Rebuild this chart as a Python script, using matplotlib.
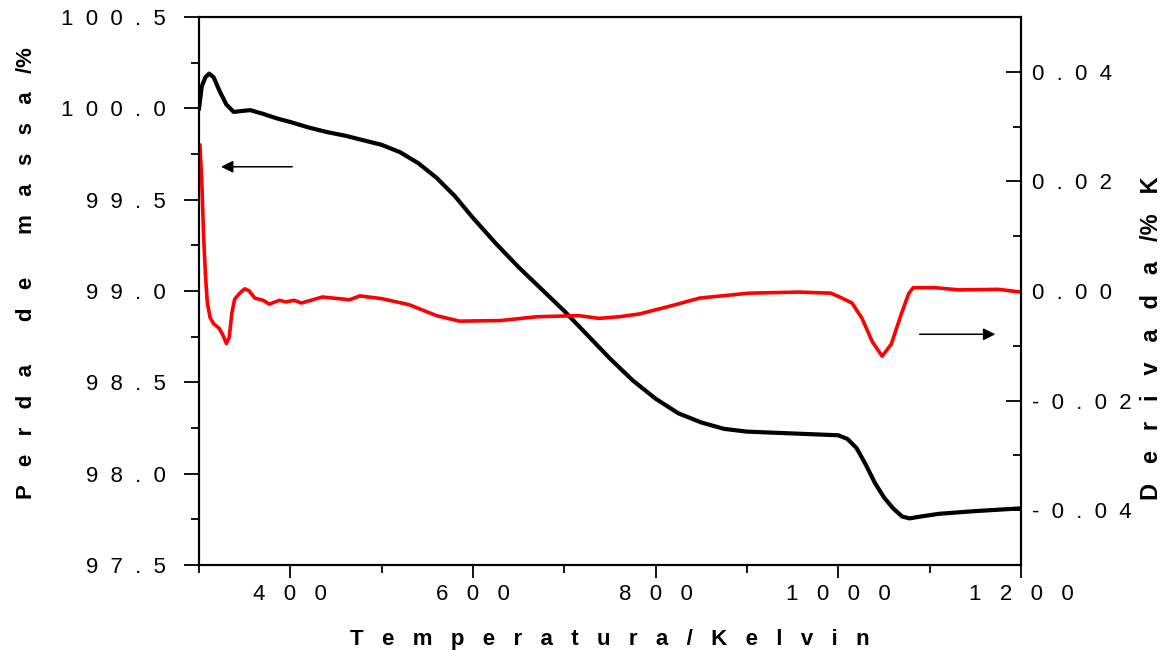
import numpy as np
import matplotlib
matplotlib.use('Agg')
import matplotlib.pyplot as plt
from matplotlib.ticker import MultipleLocator

plt.rcParams['font.family'] = ['Liberation Sans', 'DejaVu Sans']

# TG curve (mass loss, left axis)
tgTemp = [300, 303, 307, 311, 316, 322, 330, 338, 346, 356, 370, 385, 400, 420,
          440, 460, 480, 500, 520, 540, 560, 580, 600, 625, 650, 675, 700, 725,
          750, 775, 800, 825, 850, 875, 900, 950, 1000, 1010, 1020, 1030, 1040,
          1050, 1060, 1070, 1078, 1090, 1110, 1150, 1200]
tgMass = [100.00, 100.12, 100.17, 100.19, 100.17, 100.10, 100.02, 99.98, 99.985,
          99.99, 99.97, 99.945, 99.925, 99.895, 99.87, 99.85, 99.825, 99.80,
          99.76, 99.70, 99.62, 99.52, 99.40, 99.26, 99.13, 99.01, 98.89, 98.76,
          98.63, 98.51, 98.41, 98.33, 98.28, 98.245, 98.23, 98.22, 98.21, 98.19,
          98.14, 98.05, 97.95, 97.87, 97.81, 97.765, 97.755, 97.765, 97.78,
          97.795, 97.81]

# DTG curve (derivative, right axis)
dtgTemp = [301, 303, 305, 307, 309, 312, 316, 322, 326, 330, 333, 336, 339, 344,
           350, 355, 361, 370, 377, 388, 395, 404, 412, 435, 465, 476, 500, 530,
           560, 585, 630, 670, 716, 738, 760, 782, 815, 848, 902, 957, 992, 1004,
           1015, 1026, 1037, 1048, 1058, 1069, 1077, 1082, 1106, 1132, 1175, 1200]
dtgVal = [0.0266, 0.020, 0.010, 0.003, -0.002, -0.0048, -0.0060, -0.0068, -0.0080,
          -0.0096, -0.0085, -0.0040, -0.0015, -0.0005, 0.0004, 0.0, -0.0013,
          -0.0017, -0.0024, -0.0017, -0.0020, -0.0017, -0.0022, -0.0011, -0.0016,
          -0.0009, -0.0014, -0.0025, -0.0045, -0.0055, -0.0054, -0.0047, -0.0045,
          -0.0050, -0.0047, -0.0042, -0.0028, -0.0013, -0.0004, -0.0002, -0.0004,
          -0.0013, -0.0022, -0.0050, -0.0092, -0.0119, -0.0097, -0.0042, -0.0005,
          0.0006, 0.0006, 0.0002, 0.0003, -0.0002]

xTicks = [400, 600, 800, 1000, 1200]
leftTicks = [97.5, 98.0, 98.5, 99.0, 99.5, 100.0, 100.5]
rightTicks = [-0.04, -0.02, 0.00, 0.02, 0.04]


def spaced(s, n=2):
    return (' ' * n).join(s)


fig = plt.figure(figsize=(11.66, 6.53), dpi=100)
ax = fig.add_axes([0.1707, 0.1348, 0.7049, 0.8392])
ax2 = ax.twinx()

ax.plot(tgTemp, tgMass, color='black', lw=3.0)
ax2.plot(dtgTemp, dtgVal, color='red', lw=2.6)

ax.set_xlim(300, 1200)
ax.set_ylim(97.5, 100.5)
ax2.set_ylim(-0.05, 0.05)

ax.set_xticks(xTicks)
ax.set_xticklabels([spaced(str(t), 3) for t in xTicks], fontsize=16)
ax.xaxis.set_minor_locator(MultipleLocator(100))
ax.set_yticks(leftTicks)
ax.set_yticklabels([spaced('%.1f' % v) for v in leftTicks], fontsize=16)
ax.yaxis.set_minor_locator(MultipleLocator(0.25))
ax2.set_yticks(rightTicks)
ax2.set_yticklabels([spaced('%.2f' % v) for v in rightTicks], fontsize=16)
ax2.yaxis.set_minor_locator(MultipleLocator(0.01))

ax.tick_params(axis='y', which='major', direction='out', length=11, width=1.3, pad=13)
ax.tick_params(axis='y', which='minor', direction='out', length=6, width=1.3)
ax.tick_params(axis='x', which='major', direction='out', length=9, width=1.3, pad=5)
ax.tick_params(axis='x', which='minor', direction='out', length=6, width=1.3)
ax2.tick_params(axis='y', which='major', direction='in', length=11, width=1.3, pad=8)
ax2.tick_params(axis='y', which='minor', direction='in', length=6, width=1.3)

for a in (ax, ax2):
    for sp in a.spines.values():
        sp.set_linewidth(1.5)

ax.set_xlabel(spaced('Temperatura/Kelvin', 3), fontsize=16, fontweight='bold', labelpad=17)
ax.set_ylabel('P   e   r   d   a       d   e       m   a   s   s   a   /%',
              fontsize=16, fontweight='bold')
ax.yaxis.set_label_coords(-0.197, 0.533)
ax2.set_ylabel('D   e   r   i   v   a   d   a   /%   K', fontsize=17,
               fontweight='bold', rotation=90)
ax2.yaxis.set_label_coords(1.145, 0.414)

ax.annotate('', xy=(321, 99.68), xytext=(405, 99.68),
            arrowprops=dict(arrowstyle='-|>', color='black', lw=1.1, mutation_scale=18))
ax2.annotate('', xy=(1175, -0.0079), xytext=(1086, -0.0079),
             arrowprops=dict(arrowstyle='-|>', color='black', lw=1.1, mutation_scale=18))

fig.savefig('out.png', dpi=100)
